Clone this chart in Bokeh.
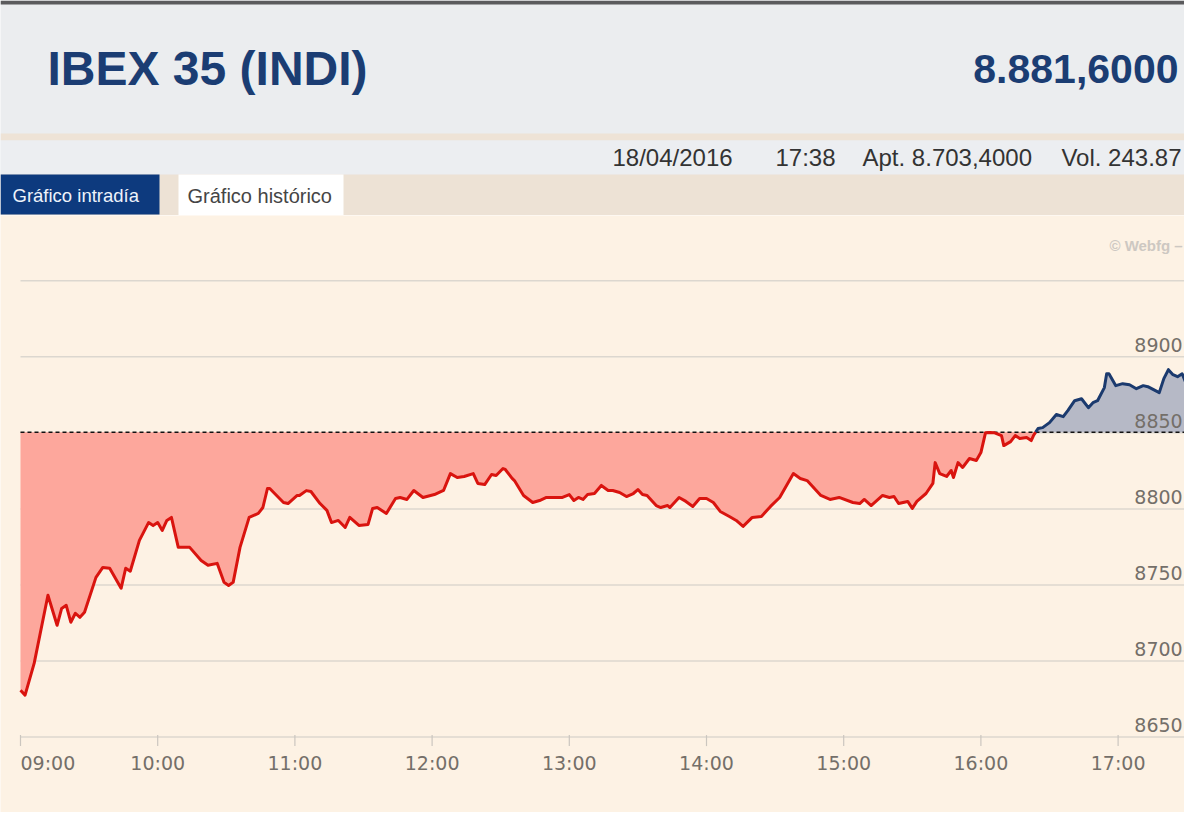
import numpy as np
from bokeh.plotting import figure
from bokeh.layouts import column
from bokeh.models import Range1d
from bokeh.core.properties import value
from bokeh.embed import file_html
from bokeh.resources import INLINE

# ---------------- data ----------------
title = "IBEX 35 (INDI)"
last_value = "8.881,6000"
info_texts = ["18/04/2016", "17:38", "Apt. 8.703,4000", "Vol. 243.87"]
tab_labels = ["Gráfico intradía", "Gráfico histórico"]
watermark = "© Webfg –"

prev_close = 8850.4

times = [
    "09:00", "09:02", "09:06", "09:12", "09:16", "09:18", "09:20", "09:22", "09:24", "09:26",
    "09:28", "09:33", "09:36", "09:39", "09:44", "09:46", "09:48", "09:52", "09:56", "09:58",
    "10:00", "10:02", "10:04", "10:06", "10:09", "10:14", "10:19", "10:22", "10:26", "10:29",
    "10:31", "10:33", "10:36", "10:40", "10:44", "10:46", "10:48", "10:49", "10:55", "10:57",
    "11:01", "11:02", "11:05", "11:07", "11:11", "11:14", "11:16", "11:19", "11:22", "11:24",
    "11:28", "11:32", "11:34", "11:36", "11:40", "11:44", "11:46", "11:49", "11:52", "11:56",
    "12:01", "12:05", "12:08", "12:11", "12:14", "12:18", "12:20", "12:23", "12:26", "12:28",
    "12:31", "12:32", "12:35", "12:36", "12:40", "12:44", "12:47", "12:50", "12:55", "12:57",
    "13:00", "13:02", "13:04", "13:06", "13:08", "13:11", "13:14", "13:17", "13:19", "13:22",
    "13:25", "13:28", "13:30", "13:32", "13:34", "13:38", "13:40", "13:43", "13:44", "13:48",
    "13:51", "13:54", "13:57", "14:00", "14:03", "14:06", "14:10", "14:13", "14:16", "14:20",
    "14:24", "14:28", "14:32", "14:38", "14:41", "14:44", "14:50", "14:54", "14:58", "15:04",
    "15:07", "15:09", "15:12", "15:17", "15:20", "15:22", "15:24", "15:28", "15:30", "15:32",
    "15:36", "15:39", "15:40", "15:42", "15:45", "15:47", "15:48", "15:50", "15:52", "15:55",
    "15:58", "16:00", "16:02", "16:04", "16:06", "16:09", "16:10", "16:13", "16:15", "16:17",
    "16:20", "16:22", "16:23", "16:25", "16:27", "16:30", "16:33", "16:36", "16:38", "16:41",
    "16:44", "16:47", "16:49", "16:51", "16:54", "16:55", "16:56", "16:59", "17:02", "17:05",
    "17:08", "17:11", "17:13", "17:18", "17:20", "17:22", "17:24", "17:26", "17:28", "17:30",
]

values = [
    8680.8, 8677.6, 8698.6, 8743.2, 8723.5, 8734.6, 8736.6, 8725.5, 8731.4, 8728.7,
    8732.0, 8755.0, 8761.5, 8761.0, 8747.8, 8761.0, 8759.0, 8779.3, 8791.0, 8789.0,
    8791.0, 8785.8, 8792.4, 8794.4, 8774.7, 8774.7, 8766.1, 8762.9, 8764.2, 8751.7,
    8749.7, 8751.7, 8774.7, 8794.4, 8797.0, 8800.9, 8813.4, 8813.4, 8804.2, 8803.5,
    8808.8, 8808.8, 8812.0, 8811.4, 8803.5, 8799.0, 8791.0, 8792.4, 8787.8, 8794.4,
    8789.1, 8789.8, 8800.3, 8800.9, 8797.0, 8806.8, 8807.5, 8806.2, 8812.1, 8807.5,
    8809.4, 8812.1, 8823.2, 8820.6, 8821.3, 8823.2, 8816.7, 8816.0, 8822.6, 8821.9,
    8826.5, 8825.9, 8820.0, 8818.6, 8808.8, 8804.2, 8805.5, 8807.5, 8807.5, 8807.5,
    8809.4, 8805.5, 8807.5, 8806.2, 8809.4, 8810.1, 8815.4, 8812.1, 8812.1, 8810.8,
    8808.1, 8810.1, 8812.7, 8809.4, 8808.8, 8802.2, 8800.9, 8802.2, 8800.9, 8807.5,
    8804.9, 8801.6, 8806.8, 8806.8, 8804.2, 8798.3, 8795.0, 8792.4, 8788.5, 8794.4,
    8795.0, 8801.6, 8807.5, 8823.2, 8820.0, 8818.6, 8808.8, 8806.2, 8807.5, 8804.2,
    8803.5, 8806.2, 8802.2, 8808.8, 8807.5, 8808.1, 8803.5, 8804.9, 8800.3, 8804.9,
    8810.1, 8816.7, 8830.4, 8823.2, 8821.3, 8825.2, 8820.6, 8830.4, 8827.2, 8833.1,
    8831.8, 8837.0, 8850.0, 8850.2, 8850.0, 8848.2, 8841.6, 8844.2, 8848.2, 8846.2,
    8846.9, 8844.9, 8848.2, 8852.8, 8853.4, 8856.7, 8862.0, 8860.6, 8864.6, 8871.1,
    8872.4, 8866.5, 8869.8, 8871.1, 8879.7, 8888.8, 8888.8, 8881.0, 8882.3, 8881.6,
    8879.0, 8881.0, 8880.3, 8876.4, 8885.6, 8891.5, 8888.2, 8886.9, 8888.8, 8881.6,
]

hour_labels = ["09:00", "10:00", "11:00", "12:00", "13:00", "14:00", "15:00", "16:00", "17:00"]
y_ticks = [8650, 8700, 8750, 8800, 8850, 8900, 8950]
y_tick_labels = ["8650", "8700", "8750", "8800", "8850", "8900"]


def to_min(s):
    h, m = s.split(":")
    return int(h) * 60 + int(m)


# ---------------- layout constants ----------------
W = 1184
H_TOTAL = 812
H_HEAD = 215
H_CHART = H_TOTAL - H_HEAD
PX_PER_MIN = 137.2 / 60.0
PX_PER_PT = 1.5215
X_0900 = 20.0      # pixel position of 09:00
Y_8650 = 736.6     # pixel position of the lowest grid line

SANS = value("Liberation Sans")
AXFONT = value("DejaVu Sans")

# ---------------- header ----------------
head = figure(width=W, height=H_HEAD, x_range=Range1d(0, W), y_range=Range1d(H_HEAD, 0),
              toolbar_location=None, output_backend="svg", min_border=0,
              x_axis_type=None, y_axis_type=None, outline_line_color=None,
              background_fill_color="#ebedef", border_fill_color="#ebedef")
head.xgrid.visible = False
head.ygrid.visible = False

head.quad(left=[0, 0, 0, 0], right=[W] * 4, top=[0, 133, 140, 174], bottom=[4, 140, 174, H_HEAD],
          fill_color=["#5b5b5d", "#eee3d6", "#eceef1", "#ede2d5"], line_color=None)
head.quad(left=[0, 178], right=[159, 343], top=[174, 174], bottom=[214, 215],
          fill_color=["#0d3a7e", "#ffffff"], line_color=None)

head.text(x=[47], y=[68], text=[title], text_font=SANS, text_font_size="48px",
          text_font_style="bold", text_color="#1b3d73", text_baseline="middle", text_align="left")
head.text(x=[1178], y=[68], text=[last_value], text_font=SANS, text_font_size="41px",
          text_font_style="bold", text_color="#1b3d73", text_baseline="middle", text_align="right")
head.text(x=[612, 775, 862], y=[157] * 3, text=info_texts[:3], text_font=SANS,
          text_font_size="24px", text_color="#333333", text_baseline="middle", text_align="left")
head.text(x=[1181], y=[157], text=[info_texts[3]], text_font=SANS,
          text_font_size="24px", text_color="#333333", text_baseline="middle", text_align="right")
head.text(x=[12], y=[195], text=[tab_labels[0]], text_font=SANS, text_font_size="18.5px",
          text_color="#eef3fb", text_baseline="middle", text_align="left")
head.text(x=[187], y=[195], text=[tab_labels[1]], text_font=SANS, text_font_size="20px",
          text_color="#454545", text_baseline="middle", text_align="left")

# ---------------- chart ----------------
tm = np.array([to_min(t) for t in times], dtype=float)
v = np.array(values, dtype=float)
hours = [to_min(h) for h in hour_labels]
t_start, t_end = tm[0], tm[-1]

t0 = hours[0] - X_0900 / PX_PER_MIN
t1 = t0 + W / PX_PER_MIN
v_top = y_ticks[0] + (Y_8650 - H_HEAD) / PX_PER_PT
v_bot = v_top - H_CHART / PX_PER_PT

chart = figure(width=W, height=H_CHART, x_range=Range1d(t0, t1), y_range=Range1d(v_bot, v_top),
               toolbar_location=None, output_backend="svg", min_border=0,
               x_axis_type=None, y_axis_type=None, outline_line_color=None,
               background_fill_color="#fdf2e4", border_fill_color="#fdf2e4")
chart.xgrid.visible = False
chart.ygrid.visible = False

# grid lines
chart.segment(x0=[t_start] * len(y_ticks), x1=[t_end] * len(y_ticks), y0=y_ticks, y1=y_ticks,
              line_color="#dcd7cf", line_width=1.5)
# tick marks on the time axis
base = y_ticks[0]
chart.segment(x0=hours, x1=hours, y0=[base + 2 / PX_PER_PT] * len(hours),
              y1=[base - 9 / PX_PER_PT] * len(hours), line_color="#cbc6bf", line_width=1.2)

# insert crossings with previous close
xs, ys = [tm[0]], [v[0]]
for i in range(1, len(tm)):
    a, b = v[i - 1], v[i]
    if (a - prev_close) * (b - prev_close) < 0:
        tc = tm[i - 1] + (prev_close - a) / (b - a) * (tm[i] - tm[i - 1])
        xs.append(tc)
        ys.append(prev_close)
    xs.append(tm[i])
    ys.append(b)
xs = np.array(xs)
ys = np.array(ys)
ref = np.full_like(ys, prev_close)

chart.varea(x=xs, y1=np.minimum(ys, prev_close), y2=ref, fill_color="#fda79c", fill_alpha=1.0)
chart.varea(x=xs, y1=ref, y2=np.maximum(ys, prev_close), fill_color="#b6b9c6", fill_alpha=1.0)

chart.line([t_start, t_end], [prev_close, prev_close], line_color="#111111", line_width=1.5,
           line_dash="4 3")

red = np.where(ys <= prev_close, ys, np.nan)
blue = np.where(ys >= prev_close, ys, np.nan)
chart.line(xs, red, line_color="#d9140f", line_width=3, line_join="round")
chart.line(xs, blue, line_color="#1b3a6e", line_width=3, line_join="round")

# y labels (inside the plot, right aligned, above grid lines)
chart.text(x=[t_end] * len(y_tick_labels), y=[t + 5 / PX_PER_PT for t in y_ticks[:len(y_tick_labels)]],
           text=y_tick_labels, text_font=AXFONT, text_font_size="19px", text_color="#746f69",
           text_align="right", text_baseline="bottom", x_offset=-4)

# x labels
lab_y = base - 26 / PX_PER_PT
chart.text(x=[hours[0]], y=[lab_y], text=[hour_labels[0]], text_font=AXFONT, text_font_size="19px",
           text_color="#746f69", text_align="left", text_baseline="middle")
chart.text(x=hours[1:], y=[lab_y] * (len(hours) - 1), text=hour_labels[1:], text_font=AXFONT,
           text_font_size="19px", text_color="#746f69", text_align="center", text_baseline="middle")

# watermark
chart.text(x=[t_end], y=[base + (Y_8650 - 245) / PX_PER_PT], text=[watermark], text_font=SANS,
           text_font_size="15px", text_font_style="bold", text_color="#cdc8c2",
           text_align="right", text_baseline="middle", x_offset=-4)

layout = column(head, chart, spacing=0)
open("out.html", "w").write(file_html(layout, INLINE))
